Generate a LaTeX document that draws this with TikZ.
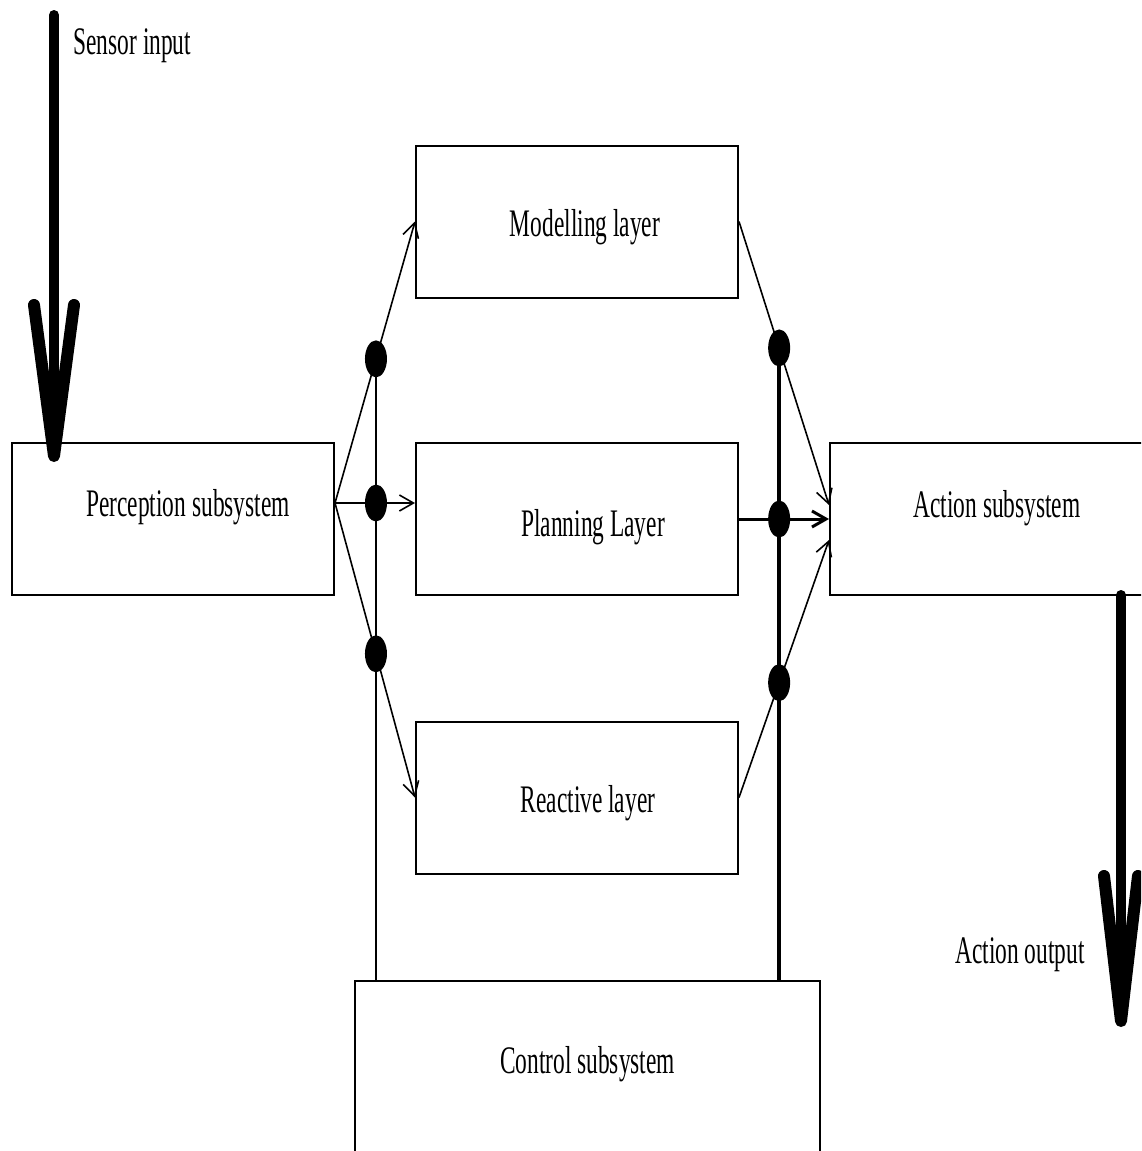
\documentclass[tikz,border=0pt]{standalone}
\usepackage{fontspec}
\usepackage{tikz}
\usetikzlibrary{arrows.meta,shapes.geometric,calc}
\newfontfamily\narrowserif[FakeStretch=0.6]{Liberation Serif}
\newcommand{\boxfont}{\narrowserif\fontsize{39}{44}\selectfont}

\tikzset{
  block/.style={draw, line width=2pt, inner sep=0pt, minimum width=322pt, minimum height=152pt},
  blocktext/.style={font=\boxfont},
  junction/.style={ellipse, fill, draw=none, inner sep=0pt, minimum width=22pt, minimum height=37pt},
  feed/.style={line width=1.6pt, -{Straight Barb[length=14pt,width=16pt]}},
  bus/.style={line width=1.6pt},
  shaft/.style={line width=10pt, line cap=round},
  barb/.style={line width=12pt, line cap=round, line join=round},
}

\begin{document}
\begin{tikzpicture}[x=1pt,y=-1pt]
		\clip (0,0) rectangle (1141,1151);

		% >>> blocks
		\node[block, label={[blocktext, shift={(15,-12)}]center:Perception subsystem}] (percep) at (173,519) {};
		\node[block, label={[blocktext, shift={(8,6)}]center:Modelling layer}] (model) at (577,221.5) {};
		\node[block, label={[blocktext, shift={(16,8)}]center:Planning Layer}] (plan) at (577,519) {};
		\node[block, label={[blocktext, shift={(11,6)}]center:Reactive layer}] (react) at (577,797.5) {};
		\node[block, minimum width=334pt, label={[blocktext, shift={(0,-11)}]center:Action subsystem}] (act) at (997,519) {};
		\node[block, minimum width=465pt, minimum height=180pt, label={[blocktext, shift={(0,-7)}]center:Control subsystem}] (ctrl) at (587.5,1071) {};
		% <<< blocks

		% >>> perception fan
		\coordinate (fan) at ([yshift=16pt]percep.east);
		\coordinate (actUp) at ([yshift=14pt]act.west);
		\coordinate (actLo) at ([yshift=-21pt]act.west);
		\node[junction] (jl1) at ($(fan)!0.512!(model.west)$) {};
		\node[junction] (jl2) at ($(fan)!0.512!(fan -| plan.west)$) {};
		\node[junction] (jl3) at ($(fan)!0.512!(react.west)$) {};
		\draw[feed] (fan) -- (model.west);
		\draw[feed] (fan) -- (fan -| plan.west);
		\draw[feed] (fan) -- (react.west);
		\draw[bus] (jl1.center) -- (jl1 |- ctrl.north);
		% <<< perception fan

		% >>> action fan
		\node[junction] (jr1) at ($(model.east)!0.446!(actUp)$) {};
		\node[junction] (jr2) at ($(plan.east)!0.446!(act.west)$) {};
		\node[junction] (jr3) at ($(react.east)!0.446!(actLo)$) {};
		\draw[feed] (model.east) -- (actUp);
		\draw[feed, line width=3pt] (plan.east) -- (act.west);
		\draw[feed] (react.east) -- (actLo);
		\draw[bus, line width=3.5pt] (jr1.center) -- (jr1 |- ctrl.north);
		% <<< action fan

		% >>> sensor input
		\coordinate (sensTop) at (54,15);
		\coordinate (sensTip) at (54,456);
		\coordinate (sensL) at (34,305);
		\coordinate (sensR) at (74,305);
		\draw[shaft] (sensTop) -- (sensTip);
		\draw[barb] (sensL) -- (sensTip) -- (sensR);
		\node[blocktext, anchor=west] (sensLbl) at (70,46) {Sensor input};
		% <<< sensor input

		% >>> action output
		\coordinate (outTop) at (1121,595);
		\coordinate (outTip) at (1121,1021);
		\coordinate (outL) at (1104,876);
		\coordinate (outR) at (1138,876);
		\draw[shaft] (outTop) -- (outTip);
		\draw[barb] (outL) -- (outTip) -- (outR);
		\node[blocktext] (outLbl) at (1020,955) {Action output};
		% <<< action output

	\end{tikzpicture}
\end{document}
